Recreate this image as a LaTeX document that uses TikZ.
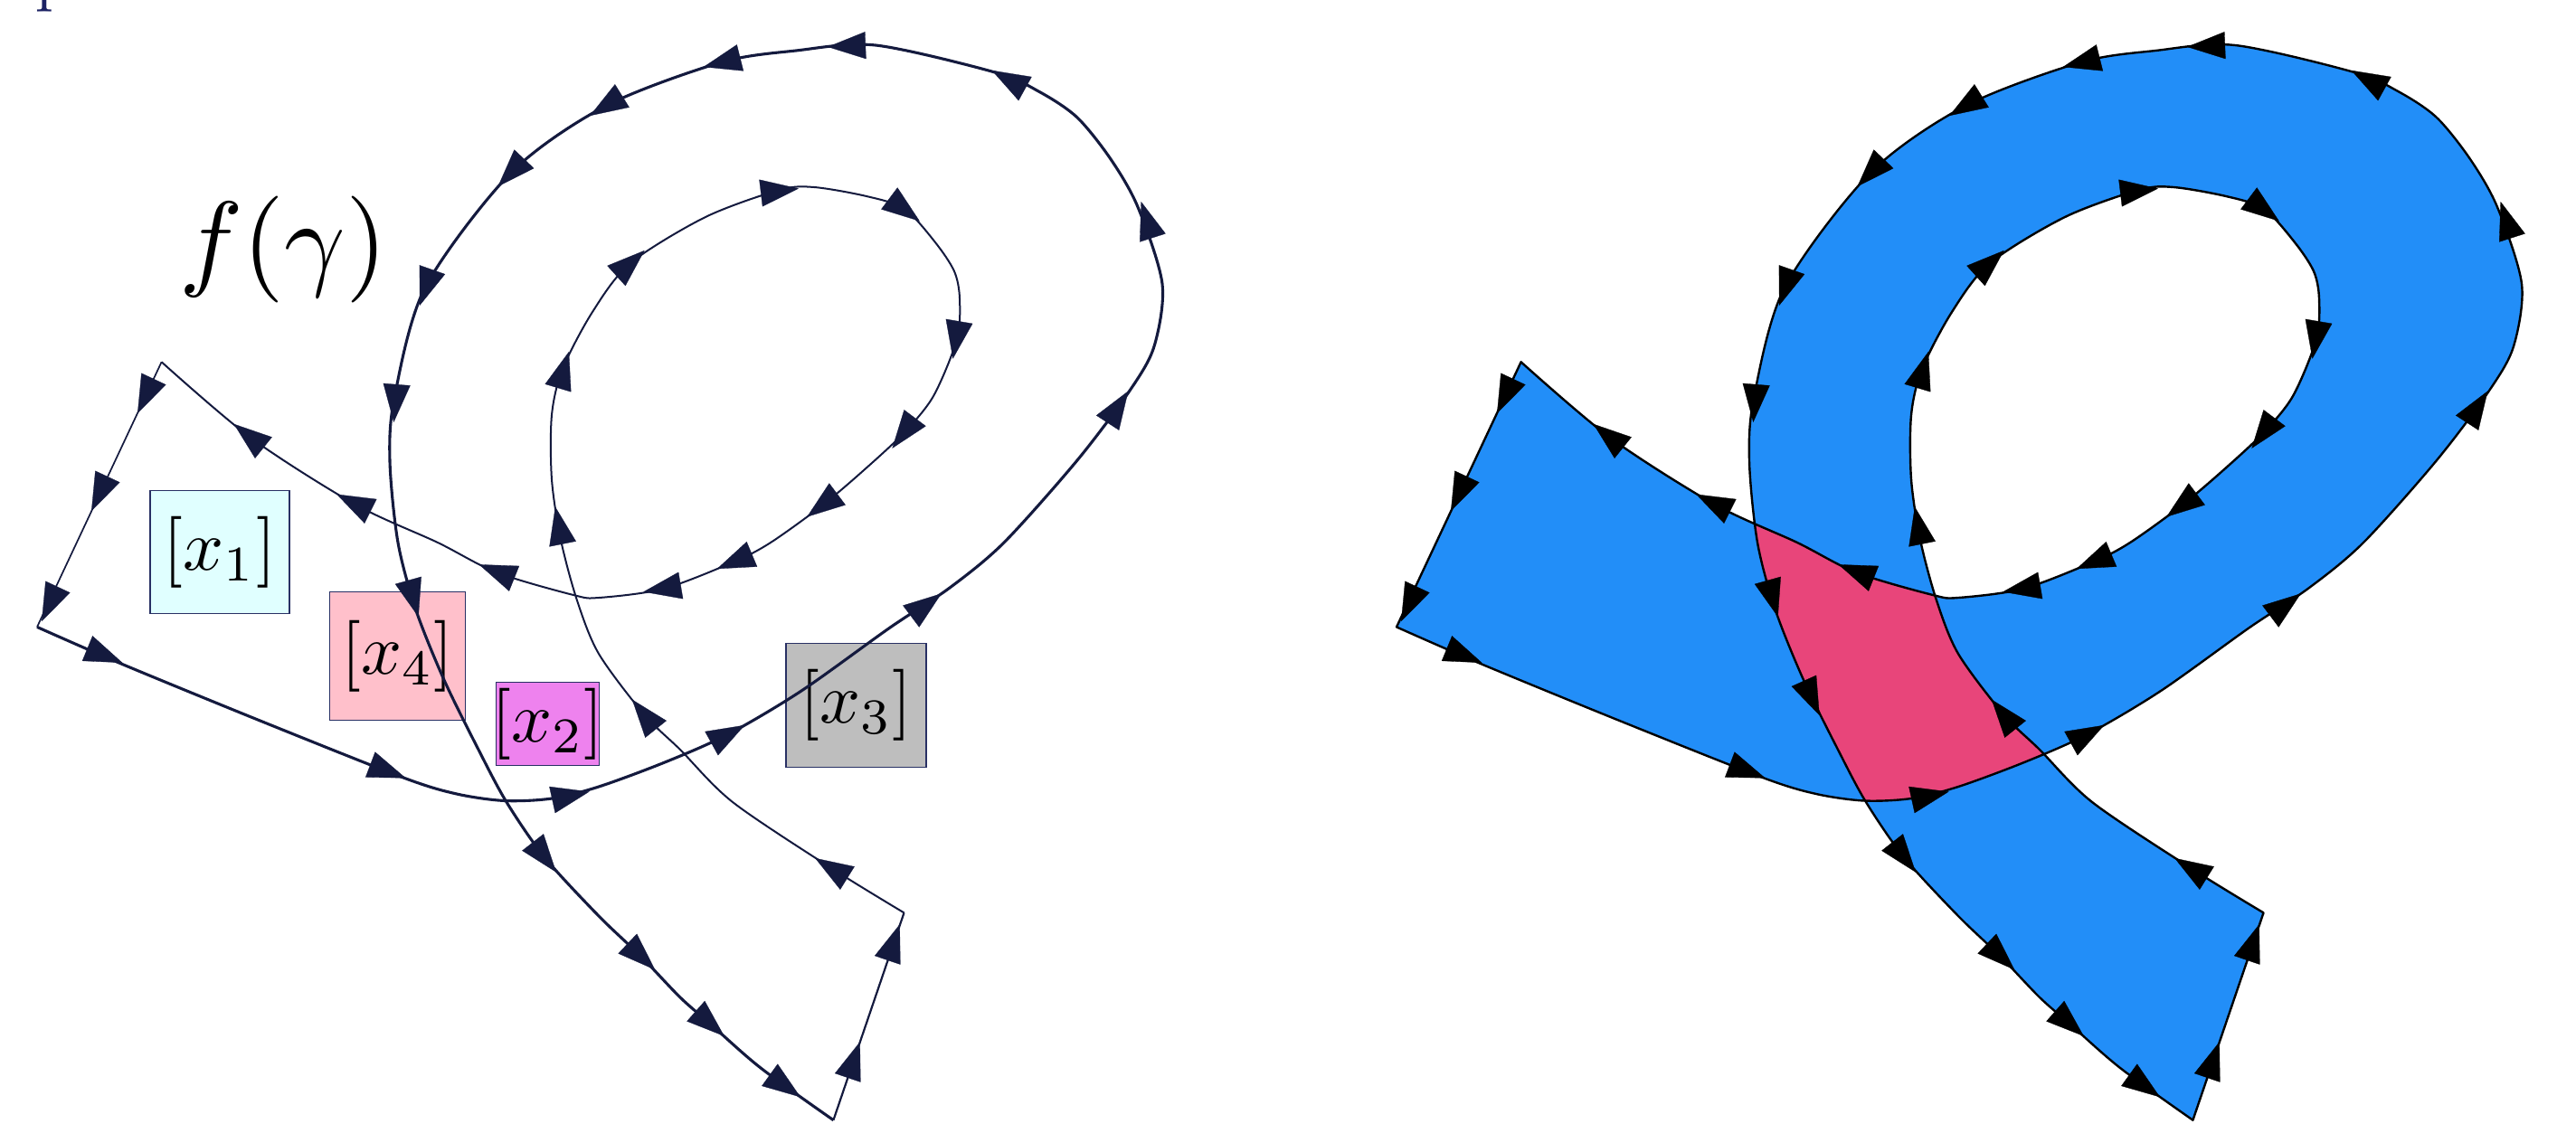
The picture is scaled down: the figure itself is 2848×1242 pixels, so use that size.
\documentclass[tikz,border=0pt]{standalone}
\usepackage{graphicx}
\usetikzlibrary{arrows.meta,calc}
\definecolor{navy}{RGB}{20,26,62}
\definecolor{boxline}{RGB}{40,48,100}
\definecolor{cxone}{RGB}{224,255,255}
\definecolor{cxfour}{RGB}{255,192,203}
\definecolor{cxtwo}{RGB}{238,130,238}
\definecolor{cxthree}{RGB}{190,190,190}
\definecolor{ribbonblue}{RGB}{34,142,248}
\definecolor{overlapred}{RGB}{232,69,122}
\definecolor{titleblue}{RGB}{28,34,100}
\tikzset{
  linkBC/.style={insert path={-- plot[smooth,tension=0.5] coordinates {(41,693.4) (134,734) (290,798) (446,860) (505,878) (558,885.5) (610,883) (662,870) (735,843) (805,812) (886,764) (984,694) (1050,650) (1110,600) (1191,509) (1249,432) (1276,383) (1285,314) (1258,229) (1228,176) (1191,130) (1150,102) (1100,80) (968,50) (880,56) (797,69) (670,117) (565,191) (470,318) (436,440) (431,510) (440,600) (460,675) (491,752) (529,829) (560,887) (602,948) (662,1013) (709,1058) (752,1103) (785,1132) (841,1181) (921.4,1238.7)}}},
  linkDA/.style={insert path={-- plot[smooth,tension=0.5] coordinates {(999.5,1009.4) (919,960) (810,887) (752,829) (712,790) (662,723) (638,664) (620,597) (610,530) (610,459) (622,408) (655,345) (697,291) (780,240) (862,210) (900,207) (958,217) (1000,231) (1034,268) (1055,300) (1061,330) (1058,375) (1032,438) (999,479) (955,520) (909,559) (852,600) (812,621) (734,651) (662,661) (634,658) (549,633) (484,600) (393,558) (277,484) (178.6,400.3)}}},
  arrowst/.style={line width=0.3pt, -{Triangle[length=42pt,width=30pt]}},
  labbox/.style={draw=boxline, line width=1.6pt, inner sep=0pt, anchor=center},
}
\newcommand\arw[4]{%
  \pgfmathsetmacro\arlen{veclen(#3,#4)}%
  \draw[arrowst] ({#1-21*(#3)/\arlen},{#2-21*(#4)/\arlen}) -- ({#1+21*(#3)/\arlen},{#2+21*(#4)/\arlen});}
\newcommand\allarrows{%
  % A -> B
  \arw{161}{438}{-137.6}{293}
  \arw{110}{546}{-137.6}{293}
  \arw{55}{668}{-137.6}{293}
  % B -> C
  \arw{116}{725}{1}{0.41}
  \arw{429}{853}{1}{0.38}
  \arw{631}{880}{1}{-0.22}
  \arw{805}{812}{1}{-0.55}
  \arw{1024}{669}{1}{-0.75}
  \arw{1236}{450}{0.65}{-1}
  \arw{1268}{243}{-0.32}{-1}
  \arw{1115}{88}{-1}{-0.55}
  \arw{936}{51}{-1}{0.04}
  \arw{798}{69}{-1}{0.25}
  \arw{670}{117}{-1}{0.62}
  \arw{565}{191}{-1}{1.05}
  \arw{471}{318}{-0.35}{1}
  \arw{437}{446}{-0.08}{1}
  \arw{457}{662}{0.28}{1}
  \arw{602}{948}{0.78}{1}
  \arw{709}{1058}{1}{0.95}
  \arw{785}{1132}{1}{0.88}
  \arw{868}{1201}{1}{0.72}
  % C -> D
  \arw{944}{1172}{78}{-229}
  \arw{988}{1042}{78}{-229}
  % D -> A
  \arw{919}{960}{-1}{-0.62}
  \arw{712}{790}{-0.8}{-1}
  \arw{618}{581}{-0.2}{-1}
  \arw{623}{409}{0.3}{-1}
  \arw{697}{291}{1}{-0.9}
  \arw{862}{211}{1}{-0.12}
  \arw{1000}{232}{1}{0.75}
  \arw{1057}{376}{-0.17}{1}
  \arw{999}{479}{-0.75}{1}
  \arw{909}{559}{-1}{0.75}
  \arw{812}{621}{-1}{0.42}
  \arw{732}{651}{-1}{0.17}
  \arw{549}{632}{-1}{-0.4}
  \arw{391}{556}{-1}{-0.5}
  \arw{275}{482}{-1}{-0.8}
}
\begin{document}
\begin{tikzpicture}[x=1pt,y=-1pt]
\useasboundingbox (0,0) rectangle (2848,1242);
\fill[white] (0,0) rectangle (2848,1242);
% cut-off title glyph at the top edge
\begin{scope}
\clip (0,0) rectangle (300,60);
\node[anchor=base west, inner sep=0pt, text=titleblue] (ptitle) at (39.3,-0.3) {\scalebox{7}{p}};
\end{scope}
% ---------- left figure ----------
\node[inner sep=0pt] (fgamma) at (313,276) {\scalebox{11.8}{$f(\gamma)$}};
\node[labbox, fill=cxone, minimum width=154pt, minimum height=136pt] (x1) at (243,610.5) {\makebox[0pt]{\scalebox{7.9}{$[x_1]$}}};
\node[labbox, fill=cxfour, minimum width=150pt, minimum height=142pt] (x4) at (439.5,725.5) {\makebox[0pt]{\scalebox{7.9}{$[x_4]$}}};
\node[labbox, fill=cxtwo, minimum width=114pt, minimum height=92pt] (x2) at (605.5,800.5) {\makebox[0pt]{\scalebox{7.9}{$[x_2]$}}};
\node[labbox, fill=cxthree, minimum width=155pt, minimum height=137pt] (x3) at (946.3,779.8) {\makebox[0pt]{\scalebox{7.9}{$[x_3]$}}};
\begin{scope}[color=navy]
  \draw[line width=1.7pt] (178.6,400.3) -- (41,693.4);
  \draw[line width=3.1pt] (41,693.4) [linkBC];
  \draw[line width=2.2pt] (921.4,1238.7) -- (999.5,1009.4);
  \draw[line width=2.0pt] (999.5,1009.4) [linkDA];
  \allarrows
\end{scope}
% ---------- right figure ----------
\begin{scope}[xshift=1503pt]
  \fill[overlapred, nonzero rule] (178.6,400.3) [linkBC] [linkDA] -- cycle;
  \fill[ribbonblue, even odd rule] (178.6,400.3) [linkBC] [linkDA] -- cycle;
  \draw[black, line width=2.4pt, line join=round] (178.6,400.3) [linkBC] [linkDA] -- cycle;
  \begin{scope}[color=black]
    \allarrows
    \arw{500}{772}{0.45}{1}
  \end{scope}
\end{scope}
\end{tikzpicture}
\end{document}
